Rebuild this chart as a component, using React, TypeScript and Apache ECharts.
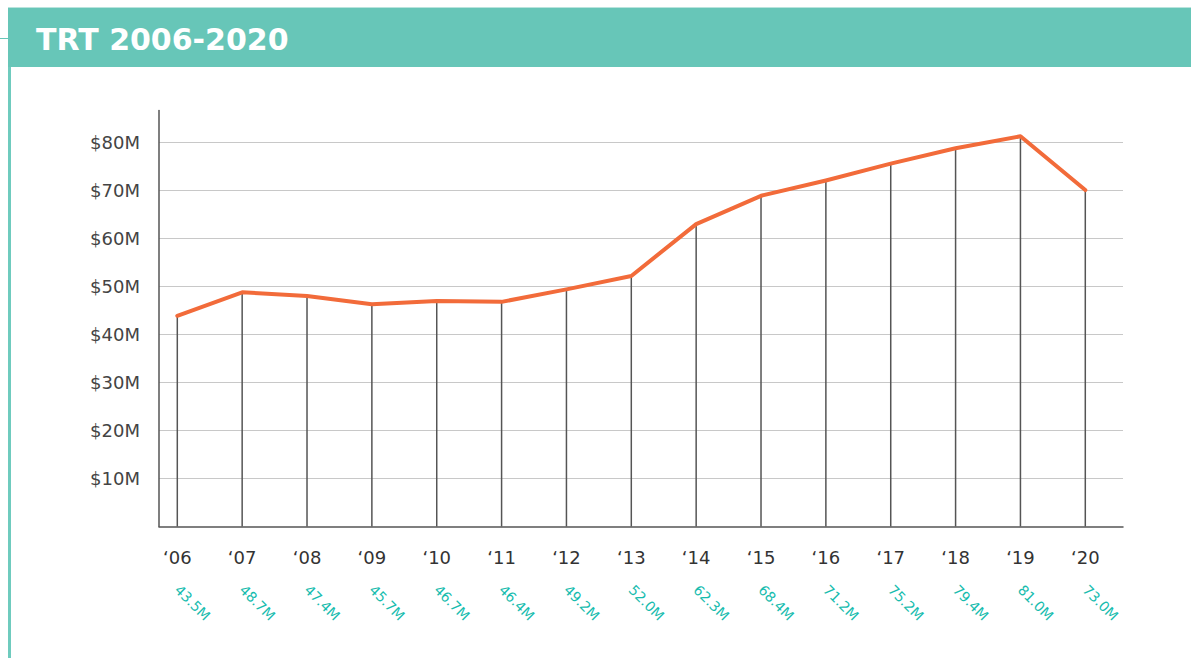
import React, { useEffect, useRef } from "react";
import * as echarts from "echarts";

const title = "TRT 2006-2020";
const years = ["‘06", "‘07", "‘08", "‘09", "‘10", "‘11", "‘12", "‘13", "‘14", "‘15", "‘16", "‘17", "‘18", "‘19", "‘20"];
const labelValues = ["43.5M", "48.7M", "47.4M", "45.7M", "46.7M", "46.4M", "49.2M", "52.0M", "62.3M", "68.4M", "71.2M", "75.2M", "79.4M", "81.0M", "73.0M"];
// values as drawn by the line in the picture (millions)
const plotted = [43.9, 48.8, 48.0, 46.3, 47.0, 46.8, 49.4, 52.2, 63.0, 68.9, 72.1, 75.6, 78.8, 81.3, 70.1];
const yMax = 86.67;
const yInterval = 10;

const TEAL = "#67c6b8";
const ORANGE = "#f26b3a";
const AXIS = "#555555";

export default function App() {
  const ref = useRef<HTMLDivElement>(null);
  useEffect(() => {
    document.body.style.margin = "0";
    const chart = echarts.init(ref.current!, undefined, { renderer: "svg" });
    const top = 110.5;
    const bottom = 131.5;
    chart.setOption({
      animation: false,
      backgroundColor: "#ffffff",
      graphic: [
        { type: "rect", shape: { x: 8, y: 7, width: 1183, height: 60 }, style: { fill: TEAL } },
        { type: "rect", shape: { x: 8, y: 7, width: 1183, height: 1 }, style: { fill: "#b9e4dd" } },
        { type: "line", shape: { x1: 0, y1: 38.5, x2: 8, y2: 38.5 }, style: { stroke: TEAL, lineWidth: 1 } },
        { type: "rect", shape: { x: 8, y: 67, width: 3, height: 591 }, style: { fill: "#6fcbbe" } },
        {
          type: "text",
          x: 36,
          y: 39,
          style: {
            text: title,
            fill: "#ffffff",
            font: "bold 30px 'DejaVu Sans'",
            verticalAlign: "middle",
            align: "left",
          },
        },
      ],
      grid: [
        { left: 159, right: 68, top, bottom },
        { left: 177.3, right: 105.7, top, bottom },
      ],
      xAxis: [
        {
          gridIndex: 0,
          type: "value",
          min: 0,
          max: 1,
          axisLine: { show: true, lineStyle: { color: AXIS, width: 1.5 } },
          axisTick: { show: false },
          axisLabel: { show: false },
          splitLine: { show: false },
        },
        {
          gridIndex: 1,
          type: "category",
          boundaryGap: false,
          data: years,
          axisLine: { show: false },
          axisTick: { show: false },
          axisLabel: {
            interval: 0,
            margin: 22,
            color: "#333333",
            fontFamily: "DejaVu Sans",
            fontSize: 18,
          },
        },
        {
          gridIndex: 1,
          type: "category",
          boundaryGap: false,
          position: "bottom",
          offset: 40,
          data: labelValues,
          axisLine: { show: false },
          axisTick: { show: false },
          axisLabel: {
            interval: 0,
            rotate: -45,
            margin: 21,
            color: "#17bcae",
            fontFamily: "DejaVu Sans",
            fontSize: 14,
          },
        },
      ],
      yAxis: [
        {
          gridIndex: 0,
          type: "value",
          min: 0,
          max: yMax,
          interval: yInterval,
          axisLine: { show: true, lineStyle: { color: AXIS, width: 1.5 } },
          axisTick: { show: false },
          axisLabel: {
            showMinLabel: false,
            showMaxLabel: false,
            margin: 19,
            color: "#444444",
            fontFamily: "DejaVu Sans",
            fontSize: 18,
            formatter: (v: number) => (v === 0 || v % yInterval !== 0 ? "" : `$${v}M`),
          },
          splitLine: { show: true, showMinLine: false, showMaxLine: false, lineStyle: { color: "#c8c8c8", width: 1 } },
        },
        {
          gridIndex: 1,
          type: "value",
          min: 0,
          max: yMax,
          show: false,
          splitLine: { show: false },
        },
      ],
      series: [
        {
          type: "bar",
          xAxisIndex: 1,
          yAxisIndex: 1,
          data: plotted,
          barWidth: 1.5,
          itemStyle: { color: AXIS },
          z: 1,
          silent: true,
        },
        {
          type: "line",
          xAxisIndex: 1,
          yAxisIndex: 1,
          data: plotted,
          showSymbol: false,
          symbol: "none",
          lineStyle: { color: ORANGE, width: 4, cap: "round", join: "round" },
          z: 3,
          silent: true,
        },
      ],
    });
    return () => chart.dispose();
  }, []);
  return <div ref={ref} style={{ width: 1191, height: 658 }} />;
}
